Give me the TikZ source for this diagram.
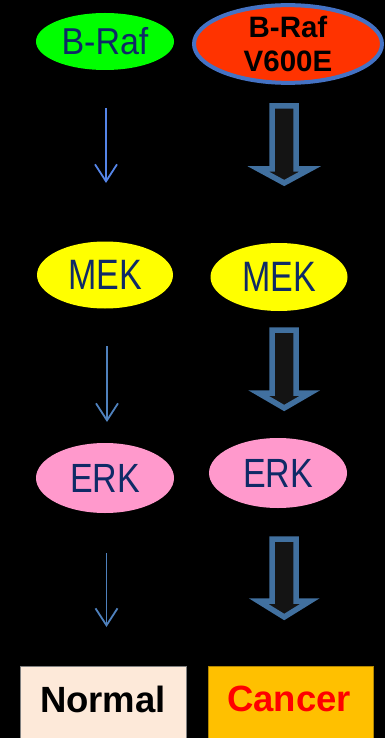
\documentclass[tikz,border=0pt]{standalone}
\usepackage{fontspec}
\usepackage{graphicx}
\setmainfont{Liberation Sans}
\usetikzlibrary{arrows.meta,shapes.geometric}
\definecolor{navy}{HTML}{0F2A66}
\definecolor{brafgreen}{HTML}{00FF00}
\definecolor{mutred}{HTML}{FF3300}
\definecolor{mutborder}{HTML}{4472C4}
\definecolor{mekyellow}{HTML}{FFFF00}
\definecolor{erkpink}{HTML}{FF99CC}
\definecolor{blockborder}{HTML}{41709F}
\definecolor{blockfill}{HTML}{141414}
\definecolor{thinblue}{HTML}{4F81BD}
\definecolor{thinblueA}{HTML}{5585E8}
\definecolor{normalfill}{HTML}{FDE9D9}
\definecolor{cancerfill}{HTML}{FFC000}
\tikzset{
  oval/.style={ellipse, inner sep=0pt, text=navy, font=\fontsize{34}{40}\selectfont},
  thinarrow/.style={draw=thinblue, line width=1.8pt, -{Straight Barb[length=17pt,width=22pt,line width=1.8pt]}},
  blockarrow/.style={draw=blockborder, fill=blockfill, line width=5.5pt, line join=miter},
  resultbox/.style={draw=gray, line width=0.8pt, font=\bfseries\fontsize{36.5}{40}\selectfont}
}
\begin{document}
\begin{tikzpicture}[x=1pt,y=-1pt]
\fill[black] (0,0) rectangle (385,738);
\useasboundingbox (0,0) rectangle (385,738);

% left column
\node[oval, fill=brafgreen, minimum width=138pt, minimum height=57pt] (braf) at (105,41.5) {\scalebox{1}[1.1]{B-Raf}};
\node[oval, fill=mekyellow, minimum width=136pt, minimum height=67pt] (mek1) at (105,275) {\scalebox{1}[1.25]{MEK}};
\node[oval, fill=erkpink, minimum width=138pt, minimum height=70pt] (erk1) at (105,478) {\scalebox{1}[1.2]{ERK}};

% right column
\node[ellipse, inner sep=0pt, fill=mutred, draw=mutborder, line width=4pt, minimum width=188pt, minimum height=72pt, align=center, font=\bfseries\fontsize{29.5}{33.3}\selectfont] (mut) at (288,44) {B-Raf\\V600E};
\node[oval, fill=mekyellow, minimum width=137pt, minimum height=68pt] (mek2) at (279,277) {\scalebox{1}[1.25]{MEK}};
\node[oval, fill=erkpink, minimum width=138pt, minimum height=70pt] (erk2) at (278,473) {\scalebox{1}[1.2]{ERK}};

% outcome boxes
\node[resultbox, fill=normalfill, minimum width=166pt, minimum height=80pt, anchor=north west] (normal) at (20,666) {};
\node[font=\bfseries\fontsize{36.5}{40}\selectfont, text=black] (normaltext) at (103,699) {Normal};
\node[resultbox, draw=cancerfill!70!black, fill=cancerfill, minimum width=165pt, minimum height=80pt, anchor=north west] (cancer) at (208,666) {};
\node[font=\bfseries\fontsize{36.5}{40}\selectfont, text=red] (cancertext) at (289,699) {Cancer};

% thin arrows (left)
\coordinate (l1s) at (106,108); \coordinate (l1e) at (106,183);
\coordinate (l2s) at (107,346); \coordinate (l2e) at (107,422);
\coordinate (l3s) at (106.5,553); \coordinate (l3e) at (106.5,627);
\draw[thinarrow, draw=thinblueA, -{Straight Barb[length=17pt,width=22pt,line width=1.8pt,color=thinblueA]}] (l1s) -- (l1e);
\draw[thinarrow] (l2s) -- (l2e);
\draw[thinarrow] (l3s) -- (l3e);

% block arrows (right)
\foreach \t/\b/\e in {106/169/183, 330/393/408, 539/601/617}{
  \draw[blockarrow] (272.2,\t) -- (296.2,\t) -- (296.2,\b) -- (310,\b) -- (284.2,\e) -- (258.4,\b) -- (272.2,\b) -- cycle;
}
\end{tikzpicture}
\end{document}
